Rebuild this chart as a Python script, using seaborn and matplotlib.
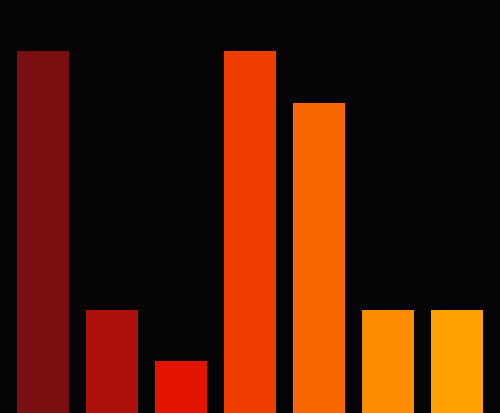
import numpy as np
import pandas as pd
import matplotlib
matplotlib.use("Agg")
import matplotlib.pyplot as plt
import seaborn as sns

# data
categories = ["A", "B", "C", "D", "E", "F", "G"]
values = [7, 2, 1, 7, 6, 2, 2]
colors = ["#7a0f12", "#ad100a", "#e21400", "#f03c00", "#f96800", "#fd8c00", "#ffa000"]

bg = "#040306"

df = pd.DataFrame({"cat": categories, "val": values})

fig = plt.figure(figsize=(5.0, 4.14), dpi=100, facecolor=bg)
ax = fig.add_axes([0, 0, 1, 1])
ax.set_facecolor(bg)

sns.barplot(data=df, x="cat", y="val", hue="cat", palette=colors,
            saturation=1, width=0.75, legend=False, ax=ax,
            edgecolor="none")

ax.set_xlim(-0.623, 6.623)
ax.set_ylim(0, 8)
ax.set_axis_off()

fig.savefig("out.png", dpi=100, facecolor=bg)
